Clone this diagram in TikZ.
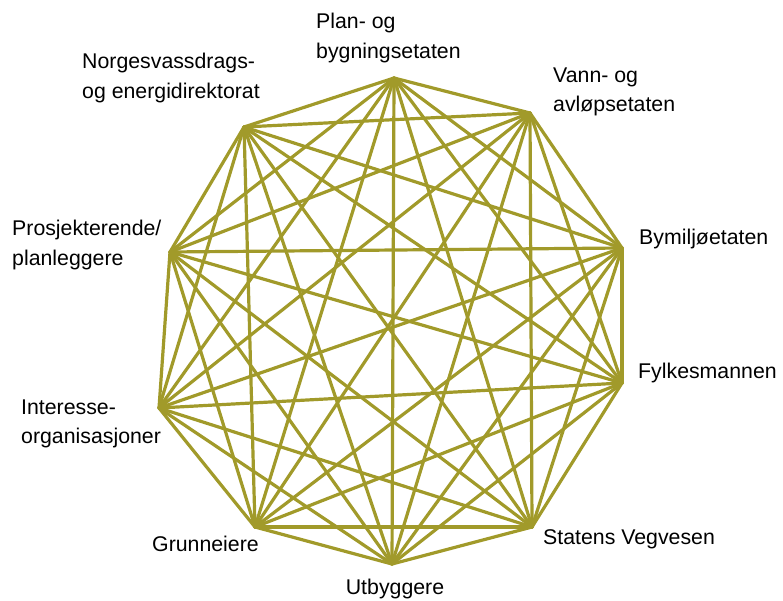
\documentclass[tikz,border=0pt]{standalone}
\usepackage{fontspec}
\setmainfont{Liberation Sans}
\usepackage{tikz}
\usetikzlibrary{positioning}
\definecolor{olivegold}{RGB}{161,154,42}

\begin{document}
\begin{tikzpicture}[x=1pt, y=-1pt, line join=round, line cap=round]
\useasboundingbox (0,0) rectangle (783,601);
\tikzset{lbl/.style={anchor=west, inner sep=0pt, align=left, font=\fontsize{21.3}{29.5}\selectfont}}
% corners of the network
\coordinate (plan) at (394,78);
\coordinate (vann) at (530,113);
\coordinate (bym) at (622,248);
\coordinate (fylk) at (622,383);
\coordinate (svv) at (532,527);
\coordinate (utb) at (392,564);
\coordinate (grun) at (255,527);
\coordinate (inter) at (159,408);
\coordinate (prosj) at (170,252);
\coordinate (nve) at (244,127);
% every corner to every other corner
\foreach \a/\rest in {plan/{vann,bym,fylk,svv,utb,grun,inter,prosj,nve},
  vann/{bym,fylk,svv,utb,grun,inter,prosj,nve},
  bym/{fylk,svv,utb,grun,inter,prosj,nve},
  fylk/{svv,utb,grun,inter,prosj,nve},
  svv/{utb,grun,inter,prosj,nve},
  utb/{grun,inter,prosj,nve},
  grun/{inter,prosj,nve},
  inter/{prosj,nve},
  prosj/{nve}}
  \foreach \b in \rest
    \draw[olivegold, line width=3.2pt](\a)--(\b);
% labels
\node[lbl] (tplan) at (316,38) {Plan- og\\bygningsetaten};
\node[lbl] (tvann) at (553,92) {Vann- og\\avløpsetaten};
\node[lbl] (tbym) at (639,239) {Bymiljøetaten};
\node[lbl] (tfylk) at (638,373) {Fylkesmannen};
\node[lbl] (tsvv) at (543,539) {Statens Vegvesen};
\node[lbl, anchor=center] (tutb) at (395,589) {Utbyggere};
\node[lbl] (tgrun) at (152,544) {Grunneiere};
\node[lbl] (tinter) at (21,424) {Interesse-\\organisasjoner};
\node[lbl] (tprosj) at (12,245) {Prosjekterende/\\planleggere};
\node[lbl] (tnve) at (82,78) {Norgesvassdrags-\\og energidirektorat};
\end{tikzpicture}
\end{document}
